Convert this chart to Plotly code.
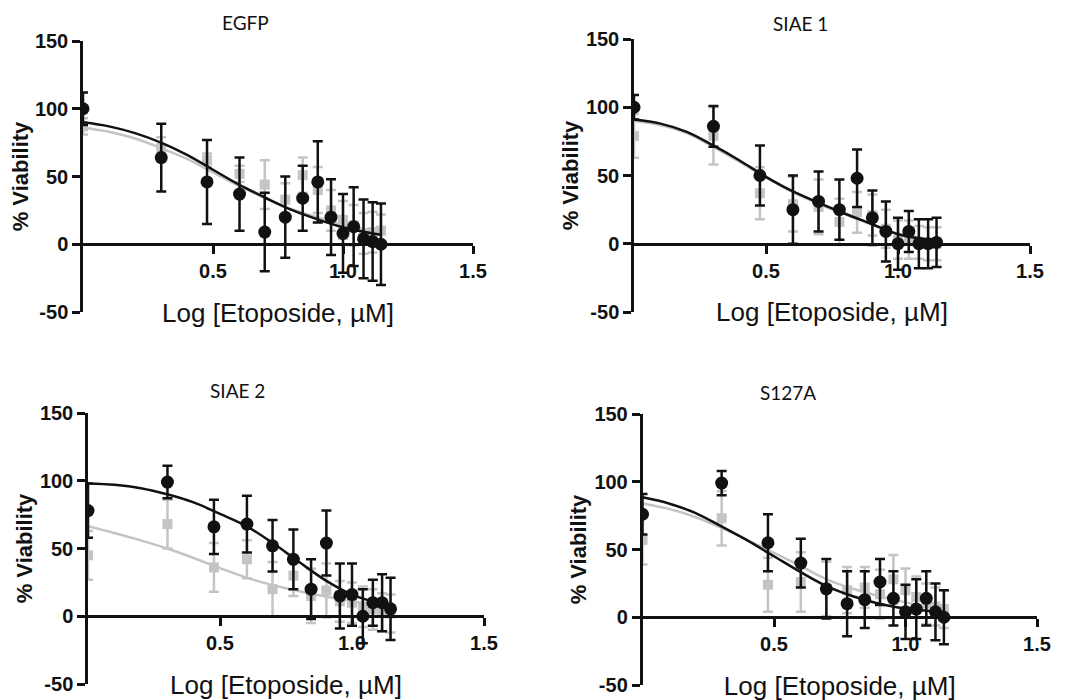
import plotly.graph_objects as go

# ---------------- data ----------------
log_conc = [0, 0.301, 0.477, 0.602, 0.699, 0.778, 0.845, 0.903, 0.954, 1.0, 1.041, 1.079, 1.114, 1.146]
curve_x = [0, 0.1, 0.2, 0.3, 0.4, 0.5, 0.6, 0.7, 0.8, 0.9, 1.0, 1.1, 1.146]

panel_titles = ["EGFP", "SIAE 1", "SIAE 2", "S127A"]

egfp_black = [100, 64, 46, 37, 9, 20, 34, 46, 20, 8, 13, 4, 2, 0]
egfp_black_err = [12, 25, 31, 27, 29, 30, 24, 30, 28, 29, 29, 29, 29, 30]
egfp_gray = [87, 71, 62, 52, 44, 33, 51, 40, 25, 18, 14, 8, 9, 10]
egfp_gray_err = [6, 8, 5, 6, 18, 12, 13, 17, 15, 14, 15, 15, 15, 12]
egfp_black_fit = [90, 87, 82, 75, 66, 55, 44, 34.5, 25.5, 18.5, 12.5, 8.5, 7]
egfp_gray_fit = [86, 83, 78, 71, 63, 53, 43, 34, 26, 20, 14.5, 10.5, 9]

siae1_black = [100, 86, 50, 25, 31, 25, 48, 19, 9, 0, 9, 0, 0, 1]
siae1_black_err = [9, 15, 22, 25, 22, 22, 21, 20, 22, 19, 15, 18, 18, 18]
siae1_gray = [79, 79, 37, 29, 27, 16, 23, 21, 11, 3, 3, 1, 0, 0]
siae1_gray_err = [16, 21, 19, 20, 20, 17, 15, 15, 14, 14, 14, 12, 12, 12]
siae1_black_fit = [91, 88, 82, 72, 61, 49, 38.5, 30, 22, 14.5, 7, 3.5, 2.5]
siae1_gray_fit = [90, 87, 81, 71, 60, 48.5, 38, 29, 21.5, 14, 7.5, 4, 3]

siae2_black = [78, 99, 66, 68, 52, 42, 20, 54, 15, 16, 0, 10, 10, 5.5]
siae2_black_err = [20, 12, 20, 21, 19, 22, 22, 24, 24, 23, 20, 17, 21, 23]
siae2_gray = [45, 68, 36, 42, 20, 30, 15, 19, 11, 10, 7, 5, 3, 2]
siae2_gray_err = [18, 18, 18, 14, 20, 15, 20, 20, 15, 15, 15, 15, 14, 14]
siae2_black_fit = [98, 97, 94.5, 90, 84, 75.5, 66.5, 54, 40, 26.5, 16, 10, 8.5]
siae2_gray_fit = [66.5, 61.5, 56, 50, 43, 35.5, 28.5, 23, 18.5, 14.5, 11, 8, 7]

s127a_black = [76, 99, 55, 40, 21, 10, 13, 26, 14, 4, 6, 14, 4, 0]
s127a_black_err = [15, 9, 21, 18, 22, 24, 21, 17, 20, 20, 22, 20, 21, 20]
s127a_gray = [57, 73, 24, 26, 21, 20, 22, 17, 28, 20, 15, 10, 8, 6]
s127a_gray_err = [18, 20, 20, 22, 20, 17, 15, 18, 18, 16, 15, 15, 14, 14]
s127a_black_fit = [88.5, 84, 77, 67, 56.5, 45, 33.5, 23, 15.5, 10, 6.5, 4.5, 4]
s127a_gray_fit = [84, 80, 74, 66, 57, 47.5, 38, 28, 21, 15.5, 11, 7.5, 6.5]

y_ticks = [-50, 0, 50, 100, 150]
y_ticktext = ["-50", "0", "50", "100", "150"]
x_ticks = [0.5, 1.0, 1.5]
x_ticktext = ["0.5", "1.0", "1.5"]

panels = [
    (egfp_black, egfp_black_err, egfp_gray, egfp_gray_err, egfp_black_fit, egfp_gray_fit),
    (siae1_black, siae1_black_err, siae1_gray, siae1_gray_err, siae1_black_fit, siae1_gray_fit),
    (siae2_black, siae2_black_err, siae2_gray, siae2_gray_err, siae2_black_fit, siae2_gray_fit),
    (s127a_black, s127a_black_err, s127a_gray, s127a_gray_err, s127a_black_fit, s127a_gray_fit),
]

# ---------------- layout geometry ----------------
W, H = 1075, 700
OFF = 8  # page body margin offset in the browser
# pixel boxes (left, right, top, bottom) of the plotting areas in the target picture
boxes = [
    (83, 473, 41, 312),
    (634, 1030, 39, 312),
    (88, 484, 413, 684),
    (642.5, 1037, 414, 685),
]
# panel title centres (target picture pixels)
title_px = [(245, 22), (800, 23), (237, 390), (788, 392)]

BLACK = "#111111"
GRAY = "#c4c4c4"
tick_font = dict(family="Liberation Sans, Arial, sans-serif", size=20, color=BLACK, weight="bold")

fig = go.Figure()
layout = dict(
    width=W, height=H,
    margin=dict(l=0, r=0, t=0, b=0),
    paper_bgcolor="white", plot_bgcolor="white",
    showlegend=False,
    annotations=[],
)

for i, (bk, bke, gr, gre, bfit, gfit) in enumerate(panels):
    n = "" if i == 0 else str(i + 1)
    xa, ya = "x" + n, "y" + n
    # gray series
    fig.add_trace(go.Scatter(
        x=log_conc, y=gr, mode="markers", xaxis=xa, yaxis=ya,
        marker=dict(symbol="square", size=10, color=GRAY),
        error_y=dict(type="data", array=gre, visible=True, color=GRAY, thickness=2.5, width=5),
    ))
    fig.add_trace(go.Scatter(
        x=curve_x, y=gfit, mode="lines", xaxis=xa, yaxis=ya,
        line=dict(color=GRAY, width=2.5, shape="spline"),
    ))
    # black series
    fig.add_trace(go.Scatter(
        x=curve_x, y=bfit, mode="lines", xaxis=xa, yaxis=ya,
        line=dict(color=BLACK, width=2.5, shape="spline"),
    ))
    fig.add_trace(go.Scatter(
        x=log_conc, y=bk, mode="markers", xaxis=xa, yaxis=ya,
        marker=dict(symbol="circle", size=13, color=BLACK),
        error_y=dict(type="data", array=bke, visible=True, color=BLACK, thickness=2.5, width=5),
    ))

    l, r, t, b = [v - OFF for v in boxes[i]]
    xdom = [l / W, r / W]
    ydom = [1 - b / H, 1 - t / H]
    zero_pos = ydom[0] + (0 - (-50)) / 200 * (ydom[1] - ydom[0])

    layout["xaxis" + n] = dict(
        domain=xdom, range=[0, 1.5], anchor="free", position=zero_pos,
        showline=True, linecolor=BLACK, linewidth=2.5,
        ticks="outside", ticklen=8, tickwidth=2.5, tickcolor=BLACK,
        tickvals=x_ticks, ticktext=x_ticktext, tickfont=tick_font,
        showgrid=False, zeroline=False, automargin=False,
        title=dict(text="Log [Etoposide, µM]", standoff=22,
                   font=dict(family="Liberation Sans, Arial, sans-serif", size=26, color=BLACK)),
    )
    layout["yaxis" + n] = dict(
        domain=ydom, range=[-50, 150], anchor=xa,
        showline=True, linecolor=BLACK, linewidth=2.5,
        ticks="outside", ticklen=8, tickwidth=2.5, tickcolor=BLACK,
        tickvals=y_ticks, ticktext=y_ticktext, tickfont=tick_font,
        showgrid=False, zeroline=False, automargin=False,
        title=dict(text="% Viability", standoff=2,
                   font=dict(family="Liberation Sans, Arial, sans-serif", size=22, color=BLACK, weight="bold")),
    )
    tx, ty = title_px[i]
    layout["annotations"].append(dict(
        text=panel_titles[i], x=(tx - OFF) / W, y=1 - (ty - OFF) / H,
        xref="paper", yref="paper", showarrow=False,
        xanchor="center", yanchor="middle",
        font=dict(family="Lato, Open Sans, sans-serif", size=19, color=BLACK),
    ))

fig.update_layout(**layout)
fig.write_html("out.html")
